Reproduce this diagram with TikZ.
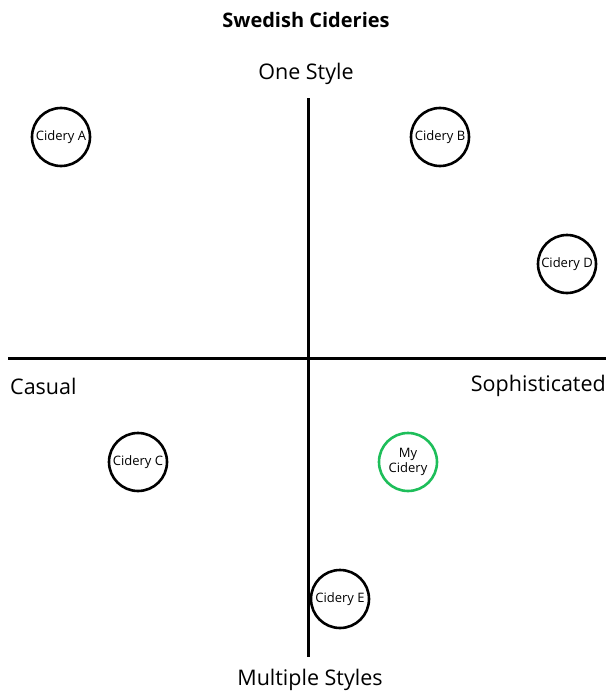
\documentclass[tikz,border=0pt]{standalone}
\usepackage{fontspec}
\setmainfont{Open Sans}
\begin{document}
\begin{tikzpicture}[x=1pt,y=-1pt,
  axis/.style={line width=3pt,black},
  cid/.style={circle,draw=black,line width=2.6pt,minimum size=58pt,inner sep=0pt,font=\fontsize{13}{15}\selectfont,align=center},
  mine/.style={cid,draw={rgb,255:red,30;green,190;blue,90}},
  lab/.style={font=\fontsize{21.5}{25}\selectfont,inner sep=0pt}]
\useasboundingbox (0,0) rectangle (608,693);
\node[font=\bfseries\fontsize{20}{24}\selectfont] (title) at (306,20) {Swedish Cideries};
\coordinate (vt) at (308,98);
\coordinate (vb) at (308,657);
\coordinate (hl) at (8,358);
\coordinate (hr) at (606,358);
\draw[axis] (vt) -- (vb);
\draw[axis] (hl) -- (hr);
\node[lab] (one) at (306,74) {One Style};
\node[lab,anchor=west] (cas) at (10,386) {Casual};
\node[lab,anchor=east] (soph) at (606,386) {Sophisticated};
\node[lab] (mult) at (310,680) {Multiple Styles};
\node[cid] (a) at (61,137) {Cidery A};
\node[cid] (b) at (440,137) {Cidery B};
\node[cid] (d) at (567,264) {Cidery D};
\node[cid] (c) at (138,462) {Cidery C};
\node[mine] (my) at (408,462) {My\\Cidery};
\node[cid] (e) at (340,599) {Cidery E};
\end{tikzpicture}
\end{document}
